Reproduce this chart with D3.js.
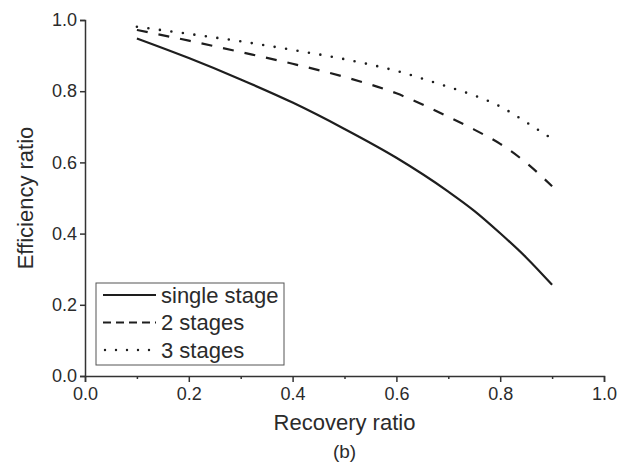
<!DOCTYPE html>
<html>
<head>
<meta charset="utf-8">
<script src="https://cdn.jsdelivr.net/npm/d3@7"></script>
<style>
  body { margin: 0; background: #fff; }
  text { font-family: "Liberation Sans", Arial, sans-serif; fill: #2b2b2b; }
</style>
</head>
<body>
<svg id="chart" width="618" height="465"></svg>
<script>
// recovery ratio (x) and efficiency ratio for each stage count
const recovery = [0.1, 0.2, 0.3, 0.4, 0.5, 0.6, 0.7, 0.75, 0.8, 0.85, 0.9];
const singleStage = [0.948, 0.893, 0.833, 0.768, 0.694, 0.613, 0.518, 0.464, 0.401, 0.333, 0.256];
const twoStages = [0.972, 0.942, 0.910, 0.877, 0.840, 0.794, 0.728, 0.692, 0.652, 0.599, 0.533];
const threeStages = [0.981, 0.961, 0.940, 0.916, 0.890, 0.857, 0.812, 0.788, 0.757, 0.713, 0.666];
const seriesNames = ['single stage', '2 stages', '3 stages'];
const xTicks = [0, 0.2, 0.4, 0.6, 0.8, 1.0];
const xMinorTicks = [0.1, 0.3, 0.5, 0.7, 0.9];
const yTicks = [0, 0.2, 0.4, 0.6, 0.8, 1.0];

const margin = { left: 85, top: 20, right: 14, bottom: 89 };
const width = 618 - margin.left - margin.right;
const height = 465 - margin.top - margin.bottom;
const dashes = [null, '11,11', '0,11.6'];
const legendDashes = [null, '8,5', '0,11'];

const svg = d3.select('#chart')
  .append('g')
  .attr('transform', `translate(${margin.left},${margin.top})`);

const x = d3.scaleLinear().domain([0, 1]).range([0, width]);
const y = d3.scaleLinear().domain([0, 1]).range([height, 0]);

// axes
const xAxis = svg.append('g')
  .attr('transform', `translate(0,${height})`)
  .call(d3.axisBottom(x).tickValues(xTicks).tickSize(6).tickPadding(5).tickFormat(d3.format('.1f')));
const xMinor = svg.append('g')
  .attr('transform', `translate(0,${height})`)
  .call(d3.axisBottom(x).tickValues(xMinorTicks).tickSize(3).tickFormat(''));
xMinor.select('.domain').remove();

const yAxis = svg.append('g')
  .call(d3.axisLeft(y).tickValues(yTicks).tickSize(5).tickPadding(3).tickFormat(d3.format('.1f')));

[xAxis, xMinor, yAxis].forEach(g => {
  g.selectAll('.domain, line').attr('stroke', '#333').attr('stroke-width', 1.5);
  g.selectAll('text').attr('font-size', 18).attr('fill', '#2b2b2b')
    .style('font-family', '"Liberation Sans", Arial, sans-serif');
});

// lines
const allSeries = [singleStage, twoStages, threeStages];
const line = d3.line()
  .x((d, i) => x(recovery[i]))
  .y(d => y(d))
  .curve(d3.curveMonotoneX);

allSeries.forEach((vals, k) => {
  svg.append('path')
    .attr('d', line(vals))
    .attr('fill', 'none')
    .attr('stroke', '#1e1e1e')
    .attr('stroke-width', k === 2 ? 2.6 : 2.2)
    .attr('stroke-linecap', k === 2 ? 'round' : 'butt')
    .attr('stroke-dasharray', dashes[k]);
});

// legend
const legend = svg.append('g').attr('transform', 'translate(11,263)');
legend.append('rect')
  .attr('width', 188).attr('height', 82)
  .attr('fill', '#fff').attr('stroke', '#555').attr('stroke-width', 1);
seriesNames.forEach((name, k) => {
  const ly = 12 + k * 27.5;
  legend.append('line')
    .attr('x1', k === 2 ? 9 : 7).attr('x2', 60).attr('y1', ly).attr('y2', ly)
    .attr('stroke', '#1e1e1e').attr('stroke-width', k === 2 ? 2.4 : 2.2)
    .attr('stroke-linecap', k === 2 ? 'round' : 'butt')
    .attr('stroke-dasharray', legendDashes[k]);
  legend.append('text')
    .attr('x', 65).attr('y', ly + 7.5)
    .attr('font-size', 22)
    .text(name);
});

// titles
svg.append('text')
  .attr('x', width / 2).attr('y', height + 54)
  .attr('text-anchor', 'middle').attr('font-size', 22)
  .text('Recovery ratio');
svg.append('text')
  .attr('x', width / 2).attr('y', height + 82)
  .attr('text-anchor', 'middle').attr('font-size', 19)
  .text('(b)');
svg.append('text')
  .attr('transform', `translate(-52,${height / 2}) rotate(-90)`)
  .attr('text-anchor', 'middle').attr('font-size', 22)
  .text('Efficiency ratio');
</script>
</body>
</html>
